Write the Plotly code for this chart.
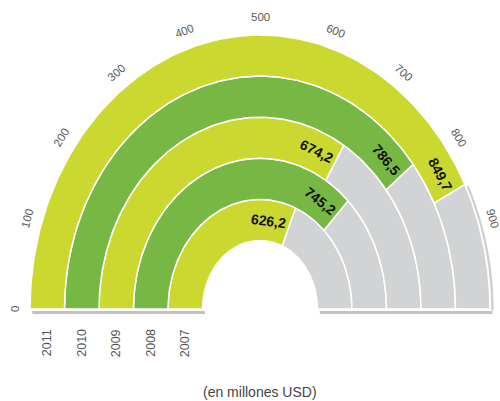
import numpy as np
import plotly.graph_objects as go

# ---- data ----
years = ["2007", "2008", "2009", "2010", "2011"]
values = [626.2, 745.2, 674.2, 786.5, 849.7]
value_labels = ["626,2", "745,2", "674,2", "786,5", "849,7"]
tick_vals = [0, 100, 200, 300, 400, 500, 600, 700, 800, 900, 1000]
tick_text = ["0", "100", "200", "300", "400", "500", "600", "700", "800", "900", "1000"]
max_val = 1000
subtitle = "(en millones USD)"

# ---- styles ----
ring_colors = ["#CBD82F", "#76B843", "#CBD82F", "#76B843", "#CBD82F"]
gray = "#D1D3D4"
W_PX, H_PX = 500, 401
PX, PY = 230.0, 274.0   # pixels per radius unit (x, y)
CX, CY = 260.0, 309.0   # centre in pixels (from left / top)
R_IN, RW = 0.25, 0.15


def theta(v):
    return np.pi * (1 - v / max_val)


def sector(v0, v1, r0, r1, n=160):
    t = np.linspace(theta(v0), theta(v1), n)
    xo, yo = r1 * np.cos(t), r1 * np.sin(t)
    xi, yi = r0 * np.cos(t[::-1]), r0 * np.sin(t[::-1])
    x = np.concatenate([xo, xi, xo[:1]])
    y = np.concatenate([yo, yi, yo[:1]])
    return x, y


def tangent_angle(t):
    return float(np.degrees(np.arctan2(PY * np.cos(t), PX * np.sin(t))))


fig = go.Figure()

# baseline shadow
for xs in ([-1.0, -R_IN], [R_IN, 1.0]):
    fig.add_trace(go.Scatter(x=[xs[0] + 0.01, xs[1] + 0.01], y=[-3.5 / PY, -3.5 / PY], mode="lines",
                             line=dict(color="rgba(120,120,120,0.45)", width=3),
                             hoverinfo="skip", showlegend=False))
# outer-edge shadow of the gray part
ts = np.linspace(0, theta(max(values)), 80)
fig.add_trace(go.Scatter(x=1.0 * np.cos(ts) + 2.5 / PX, y=1.0 * np.sin(ts) - 1.5 / PY, mode="lines",
                         line=dict(color="rgba(120,120,120,0.35)", width=2.5),
                         hoverinfo="skip", showlegend=False))

annotations = []
for i, (yr, v, lab) in enumerate(zip(years, values, value_labels)):
    r0 = R_IN + RW * i
    r1 = r0 + RW
    # gray remainder
    x, y = sector(v, max_val, r0, r1)
    fig.add_trace(go.Scatter(x=x, y=y, mode="lines", fill="toself", fillcolor=gray,
                             line=dict(color="white", width=1.5), hoverinfo="skip", showlegend=False))
    # coloured bar
    x, y = sector(0, v, r0, r1)
    fig.add_trace(go.Scatter(x=x, y=y, mode="lines", fill="toself", fillcolor=ring_colors[i],
                             line=dict(color="white", width=1.5), hoverinfo="skip", showlegend=False,
                             name=yr))
    # value label, tangent, right-aligned to the bar end
    rm = (r0 + r1) / 2
    t = theta(v)
    speed = np.hypot(PX * rm * np.sin(t), PY * rm * np.cos(t))
    tc = t + 22.0 / speed
    annotations.append(dict(x=rm * np.cos(tc), y=rm * np.sin(tc), text=lab, showarrow=False,
                            textangle=tangent_angle(tc), xanchor="center", yanchor="middle",
                            font=dict(family="Liberation Sans, Arial", size=14, color="#111111",
                                      weight="bold")))
    # year label below baseline
    annotations.append(dict(x=-rm, y=-34.0 / PY, text=yr, showarrow=False, textangle=-90,
                            xanchor="center", yanchor="middle",
                            font=dict(family="Liberation Sans, Arial", size=12.5, color="#555555")))

# angular tick labels
RT = 1.065
for tv, tt in zip(tick_vals, tick_text):
    t = theta(tv)
    annotations.append(dict(x=RT * np.cos(t), y=RT * np.sin(t), text=tt, showarrow=False,
                            textangle=tangent_angle(t), xanchor="center", yanchor="middle",
                            font=dict(family="Liberation Sans, Arial", size=11.5, color="#5a5a5a")))

annotations.append(dict(x=0.0, y=-83.0 / PY, text=subtitle, showarrow=False,
                        xanchor="center", yanchor="middle",
                        font=dict(family="Liberation Sans, Arial", size=14, color="#444444")))

fig.update_layout(
    width=W_PX, height=H_PX, autosize=False,
    margin=dict(l=0, r=0, t=0, b=0),
    paper_bgcolor="white", plot_bgcolor="white",
    xaxis=dict(range=[-CX / PX, (W_PX - CX) / PX], visible=False, fixedrange=True),
    yaxis=dict(range=[-(H_PX - CY) / PY, CY / PY], visible=False, fixedrange=True),
    annotations=annotations,
    showlegend=False,
)

fig.write_html("out.html")
